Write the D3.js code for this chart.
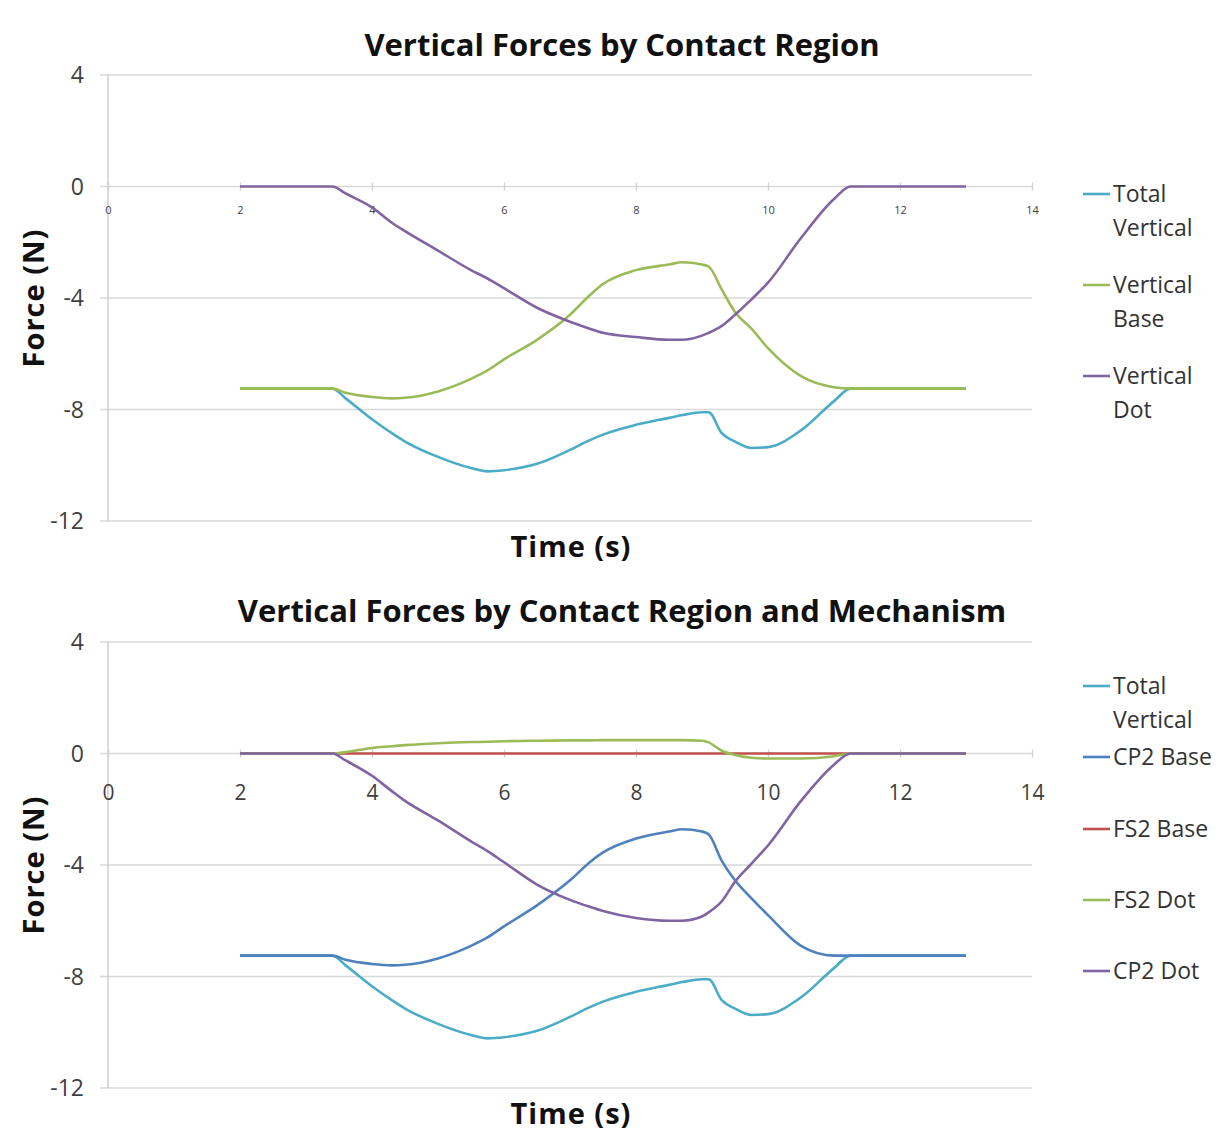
<!DOCTYPE html>
<html>
<head>
<meta charset="utf-8">
<script src="https://cdn.jsdelivr.net/npm/d3@7"></script>
<style>
  html, body { margin: 0; padding: 0; background: #fff; }
  svg { display: block; font-family: "Open Sans", Lato, sans-serif; }
</style>
</head>
<body>
<svg id="chart" width="1225" height="1137"></svg>
<script>
// Sample times (s)
const time = [2, 3, 3.4, 3.6, 4, 4.3, 4.5, 5, 5.5, 5.75, 6, 6.5, 7, 7.3, 7.5, 8, 8.5, 8.7, 9, 9.1, 9.3, 9.5, 9.75, 10, 10.5, 11, 11.25, 12, 13];

// Vertical force components (N)
const totalVertical = [-7.25, -7.25, -7.25, -7.6, -8.35, -8.85, -9.15, -9.7, -10.1, -10.22, -10.18, -9.95, -9.45, -9.1, -8.9, -8.55, -8.3, -8.2, -8.1, -8.1, -8.85, -9.15, -9.38, -9.35, -8.75, -7.7, -7.25, -7.25, -7.25];
const verticalBase = [-7.25, -7.25, -7.25, -7.4, -7.55, -7.6, -7.58, -7.35, -6.9, -6.6, -6.2, -5.5, -4.6, -3.9, -3.5, -3.0, -2.8, -2.72, -2.8, -2.87, -3.7, -4.5, -5.1, -5.8, -6.8, -7.2, -7.25, -7.25, -7.25];
const verticalDot = [0, 0, 0, -0.25, -0.75, -1.3, -1.6, -2.3, -3.0, -3.3, -3.65, -4.35, -4.85, -5.1, -5.25, -5.4, -5.5, -5.5, -5.35, -5.25, -5.0, -4.6, -4.05, -3.45, -1.85, -0.45, 0, 0, 0];

// Mechanism breakdown (N)
const cp2Base = [-7.25, -7.25, -7.25, -7.4, -7.55, -7.6, -7.58, -7.35, -6.9, -6.6, -6.2, -5.45, -4.55, -3.9, -3.55, -3.05, -2.8, -2.72, -2.8, -2.9, -3.85, -4.55, -5.2, -5.8, -6.9, -7.25, -7.25, -7.25, -7.25];
const fs2Base = [0, 0, 0, 0, 0, 0, 0, 0, 0, 0, 0, 0, 0, 0, 0, 0, 0, 0, 0, 0, 0, 0, 0, 0, 0, 0, 0, 0, 0];
const fs2Dot = [0, 0, 0, 0.05, 0.2, 0.26, 0.3, 0.37, 0.41, 0.42, 0.44, 0.46, 0.47, 0.47, 0.48, 0.48, 0.48, 0.48, 0.46, 0.4, 0.1, -0.05, -0.15, -0.18, -0.18, -0.1, 0, 0, 0];
const cp2Dot = [0, 0, 0, -0.25, -0.8, -1.35, -1.7, -2.4, -3.15, -3.5, -3.9, -4.7, -5.25, -5.5, -5.65, -5.9, -6.0, -6.0, -5.85, -5.7, -5.3, -4.6, -3.95, -3.3, -1.7, -0.4, 0, 0, 0];

// Axis ticks
const xTicks = [0, 2, 4, 6, 8, 10, 12, 14];
const yTicks = [4, 0, -4, -8, -12];

// Series names
const regionNames = [["Total", "Vertical"], ["Vertical", "Base"], ["Vertical", "Dot"]];
const mechanismNames = [["Total", "Vertical"], ["CP2 Base"], ["FS2 Base"], ["FS2 Dot"], ["CP2 Dot"]];

const svg = d3.select("#chart");

function drawChart(cfg) {
  const x = d3.scaleLinear().domain([0, 14]).range([108, 1032]);
  const y = d3.scaleLinear().domain([-12, 4]).range([cfg.bottom, cfg.top]);
  const g = svg.append("g");

  // horizontal gridlines
  g.append("g").selectAll("line").data(yTicks).join("line")
    .attr("x1", 100).attr("x2", 1032)
    .attr("y1", d => y(d)).attr("y2", d => y(d))
    .attr("stroke", "#d9d9d9").attr("stroke-width", 1.3);

  // vertical axis line
  g.append("line")
    .attr("x1", x(0)).attr("x2", x(0))
    .attr("y1", y(4)).attr("y2", y(-12))
    .attr("stroke", "#c8c8c8").attr("stroke-width", 1.3);

  // y tick labels
  g.append("g").selectAll("text").data(yTicks).join("text")
    .attr("x", 84).attr("y", d => y(d))
    .attr("dy", "0.36em")
    .attr("text-anchor", "end")
    .attr("font-size", 23).attr("fill", "#404040")
    .text(d => d);

  // x axis along the zero line
  const xAxis = d3.axisBottom(x).tickValues(xTicks).tickSize(0).tickFormat(d3.format("d"));
  const ax = g.append("g").attr("transform", `translate(0,${y(0)})`).call(xAxis);
  ax.select(".domain").remove();
  ax.selectAll(".tick line").remove();
  ax.selectAll(".tick").append("line")
    .attr("y1", -4).attr("y2", 4)
    .attr("stroke", "#d0d0d0").attr("stroke-width", 1.3);
  ax.selectAll(".tick text")
    .attr("y", cfg.xLabelOffset).attr("dy", "0.36em")
    .attr("font-family", "'Open Sans', Lato, sans-serif")
    .attr("font-size", cfg.xLabelSize).attr("fill", "#404040");

  // series lines
  const line = d3.line()
    .x((d, i) => x(time[i]))
    .y(d => y(d))
    .curve(d3.curveMonotoneX);
  cfg.series.forEach(s => {
    g.append("path")
      .attr("d", line(s.values))
      .attr("fill", "none")
      .attr("stroke", s.color)
      .attr("stroke-width", 2.6)
      .attr("stroke-linejoin", "round");
  });

  // title
  g.append("text")
    .attr("x", 622).attr("y", cfg.titleY)
    .attr("text-anchor", "middle")
    .attr("font-size", 31).attr("font-weight", 700).attr("fill", "#111")
    .text(cfg.title);

  // axis titles
  g.append("text")
    .attr("x", 571).attr("y", cfg.bottom + 26)
    .attr("dy", "0.35em")
    .attr("text-anchor", "middle")
    .attr("font-size", 29).attr("font-weight", 700).attr("fill", "#111")
    .attr("letter-spacing", "1")
    .text("Time (s)");
  g.append("text")
    .attr("transform", `translate(34,${(y(4) + y(-12)) / 2}) rotate(-90)`)
    .attr("dy", "0.35em")
    .attr("text-anchor", "middle")
    .attr("font-size", 29).attr("font-weight", 700).attr("fill", "#111")
    .attr("letter-spacing", "1")
    .text("Force (N)");

  // legend
  const leg = g.append("g");
  cfg.series.forEach((s, i) => {
    const ly = cfg.legendY[i];
    leg.append("line")
      .attr("x1", 1083).attr("x2", 1110)
      .attr("y1", ly).attr("y2", ly)
      .attr("stroke", s.color).attr("stroke-width", 2.6);
    const t = leg.append("text")
      .attr("x", 1113).attr("y", ly)
      .attr("font-size", 23).attr("fill", "#333");
    s.name.forEach((part, k) => {
      t.append("tspan").attr("x", 1113).attr("dy", k === 0 ? "0.36em" : "1.48em").text(part);
    });
  });
}

drawChart({
  top: 75, bottom: 521, titleY: 56,
  title: "Vertical Forces by Contact Region",
  xLabelSize: 11, xLabelOffset: 24,
  legendY: [194, 285, 376],
  series: [
    { name: regionNames[0], values: totalVertical, color: "#4bacc6" },
    { name: regionNames[1], values: verticalBase, color: "#9bbb59" },
    { name: regionNames[2], values: verticalDot, color: "#8064a2" }
  ]
});

drawChart({
  top: 642, bottom: 1088, titleY: 622,
  title: "Vertical Forces by Contact Region and Mechanism",
  xLabelSize: 21, xLabelOffset: 39,
  legendY: [686, 757, 829, 900, 971],
  series: [
    { name: mechanismNames[0], values: totalVertical, color: "#4bacc6" },
    { name: mechanismNames[1], values: cp2Base, color: "#4f81bd" },
    { name: mechanismNames[2], values: fs2Base, color: "#c0504d" },
    { name: mechanismNames[3], values: fs2Dot, color: "#9bbb59" },
    { name: mechanismNames[4], values: cp2Dot, color: "#8064a2" }
  ]
});
</script>
</body>
</html>
